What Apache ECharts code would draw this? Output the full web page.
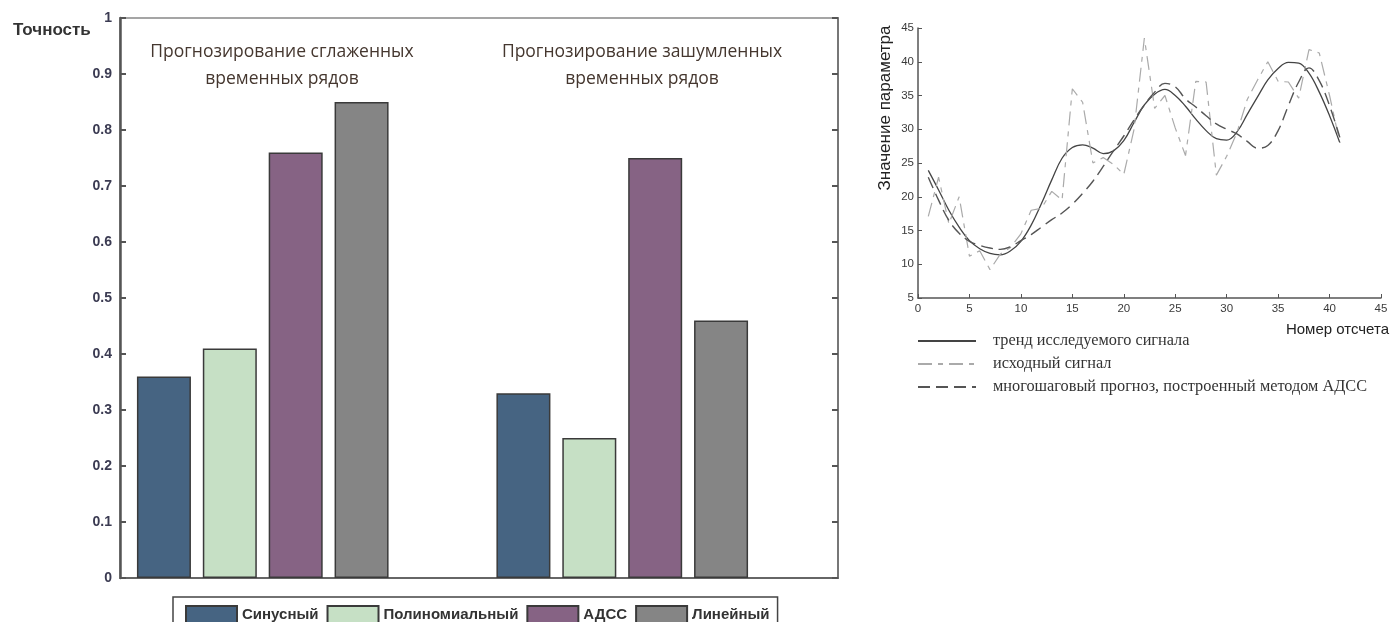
<!DOCTYPE html>
<html>
<head>
<meta charset="utf-8">
<script src="https://cdn.jsdelivr.net/npm/echarts@6/dist/echarts.min.js"></script>
<style>
  html, body { margin: 0; padding: 0; background: #fff; }
  #chart { width: 1394px; height: 622px; }
</style>
</head>
<body>
<div id="chart"></div>
<script>
// левый график: точность прогноза
var groups = ['Прогнозирование сглаженных\nвременных рядов', 'Прогнозирование зашумленных\nвременных рядов'];
var sinusVals = [0.36, 0.33];
var polyVals = [0.41, 0.25];
var adssVals = [0.76, 0.75];
var linVals = [0.85, 0.46];
var barNames = ['Синусный', 'Полиномиальный', 'АДСС', 'Линейный'];
var barColors = ['#466482', '#c6e0c5', '#866384', '#858585'];

// правый график: номер отсчета 1..41
var samples = [1,2,3,4,5,6,7,8,9,10,11,12,13,14,15,16,17,18,19,20,21,22,23,24,25,26,27,28,29,30,31,32,33,34,35,36,37,38,39,40,41];
var trend = [23.9,21,18,15.5,13.5,12.3,11.6,11.4,12,13.4,15.8,19,22.5,25.7,27.3,27.7,27.2,26.4,26.8,28.3,
  31,33.6,35.2,35.9,35,33.4,31.5,29.8,28.6,28.4,29.6,32.2,34.8,37.3,39,39.9,39.8,38.3,35.5,32,28];
var noisy = [17.1,22.9,16,20,11.2,12,9.2,11.5,12.5,14.5,18,18.3,20.8,19.5,36,34,25,25.8,24.8,23.3,
  30,43.5,33.1,35,30.2,26.1,37.1,37,23.2,26,29.5,34.4,37.3,40,37.1,37,34.6,41.8,41.3,35,28];
var forecast = [22.9,19.5,16.5,14.6,13.4,12.8,12.4,12.2,12.6,13.5,14.4,15.5,16.6,17.6,18.9,20.5,22.3,24.5,26.8,29,
  31.4,33.6,35.5,36.8,36.3,34.5,33.3,32,30.8,30,29.3,28.2,27.2,27.6,29.8,33.5,37,39.1,37.2,33.5,28.8];
var lineNames = ['тренд исследуемого сигнала', 'исходный сигнал', 'многошаговый прогноз, построенный методом АДСС'];

var chart = echarts.init(document.getElementById('chart'));

var barVals = [sinusVals, polyVals, adssVals, linVals];
var barSeries = barNames.map(function (name, i) {
  return {
    name: name,
    type: 'bar',
    xAxisIndex: 1,
    yAxisIndex: 2,
    barWidth: 54,
    barGap: '22%',
    itemStyle: { color: barColors[i], borderColor: '#3a3a3a', borderWidth: 1.5 },
    data: barVals[i]
  };
});

var xy = function (arr) {
  return samples.map(function (s, i) { return [s, arr[i]]; });
};

var labelFont = 'Liberation Sans';
var titleStyle = { fontFamily: 'Open Sans', fontSize: 17.5, fontWeight: 'normal', color: '#45372f', lineHeight: 27, align: 'center' };

chart.setOption({
  animation: false,
  title: [
    { text: 'Точность', left: 8, top: 17,
      textStyle: { fontFamily: labelFont, fontSize: 17, fontWeight: 'bold', color: '#333' } },
    { text: groups[0], left: 277, top: 34, textAlign: 'center', textStyle: titleStyle },
    { text: groups[1], left: 637, top: 34, textAlign: 'center', textStyle: titleStyle },
    { text: 'Номер отсчета', right: 0, top: 317,
      textStyle: { fontFamily: labelFont, fontSize: 15, fontWeight: 'normal', color: '#222' } }
  ],
  graphic: [
    { type: 'text', x: 885, y: 108, rotation: Math.PI / 2,
      style: { text: 'Значение параметра', font: '17px "Liberation Sans"', fill: '#222',
        textAlign: 'center', textVerticalAlign: 'middle' } }
  ],
  legend: [
    {
      data: barNames,
      left: 173, top: 597,
      padding: [8, 8, 8, 12],
      itemWidth: 51, itemHeight: 17, itemGap: 8,
      borderColor: '#444', borderWidth: 1.5,
      icon: 'rect',
      textStyle: { fontFamily: labelFont, fontSize: 15, fontWeight: 'bold', color: '#333' }
    },
    {
      data: lineNames,
      left: 912, top: 328,
      orient: 'vertical',
      itemWidth: 58, itemHeight: 14, itemGap: 7,
      itemStyle: { opacity: 0 },
      textStyle: { fontFamily: 'Liberation Serif', fontSize: 16.3, color: '#333', padding: [0, 0, 0, 12] }
    }
  ],
  grid: [
    { left: 120, top: 18, width: 718, height: 560, show: true, borderColor: '#888', borderWidth: 1.5, backgroundColor: 'transparent' },
    { left: 83, top: 18, width: 719, height: 560 },
    { left: 918, top: 28, width: 463, height: 270 }
  ],
  xAxis: [
    { gridIndex: 0, type: 'value', min: 0, max: 1, position: 'bottom',
      axisLine: { show: true, lineStyle: { color: '#666', width: 2 } },
      axisTick: { show: false }, axisLabel: { show: false }, splitLine: { show: false } },
    { gridIndex: 1, type: 'category', data: groups, show: false },
    { gridIndex: 2, type: 'value', min: 0, max: 45, interval: 5,
      axisLine: { show: true, lineStyle: { color: '#555', width: 1.5 } },
      axisTick: { show: true, inside: true, length: 4, lineStyle: { color: '#555' } },
      axisLabel: { fontFamily: labelFont, fontSize: 11.5, color: '#3a3a3a', margin: 5 },
      splitLine: { show: false } }
  ],
  yAxis: [
    { gridIndex: 0, type: 'value', min: 0, max: 1, interval: 0.1, position: 'left',
      axisLine: { show: true, lineStyle: { color: '#555', width: 2.5 } },
      axisTick: { show: true, inside: true, length: 6, lineStyle: { color: '#555', width: 2 } },
      axisLabel: { fontFamily: labelFont, fontSize: 14, fontWeight: 'bold', color: '#3b3b52', margin: 8,
        formatter: function (v) { return v === 0 ? '0' : (v === 1 ? '1' : v.toFixed(1)); } },
      splitLine: { show: false } },
    { gridIndex: 0, type: 'value', min: 0, max: 1, interval: 0.1, position: 'right',
      axisLine: { show: true, lineStyle: { color: '#777', width: 2 } },
      axisTick: { show: true, inside: true, length: 6, lineStyle: { color: '#555', width: 2 } },
      axisLabel: { show: false }, splitLine: { show: false } },
    { gridIndex: 1, type: 'value', min: 0, max: 1, show: false },
    { gridIndex: 2, type: 'value', min: 5, max: 45, interval: 5,
      axisLine: { show: true, lineStyle: { color: '#555', width: 1.5 } },
      axisTick: { show: true, inside: true, length: 4, lineStyle: { color: '#555' } },
      axisLabel: { fontFamily: labelFont, fontSize: 11.5, color: '#3a3a3a', margin: 4 },
      splitLine: { show: false } }
  ],
  series: barSeries.concat([
    {
      name: lineNames[0], type: 'line', xAxisIndex: 2, yAxisIndex: 3,
      smooth: 0.4, symbol: 'none',
      lineStyle: { color: '#444', width: 1.3, type: 'solid' },
      itemStyle: { color: '#444', opacity: 0 },
      data: xy(trend)
    },
    {
      name: lineNames[1], type: 'line', xAxisIndex: 2, yAxisIndex: 3,
      symbol: 'none',
      lineStyle: { color: '#aaa', width: 1.2, type: [14, 6, 5, 6] },
      itemStyle: { color: '#aaa', opacity: 0 },
      data: xy(noisy)
    },
    {
      name: lineNames[2], type: 'line', xAxisIndex: 2, yAxisIndex: 3,
      smooth: 0.4, symbol: 'none',
      lineStyle: { color: '#555', width: 1.4, type: [12, 6] },
      itemStyle: { color: '#555', opacity: 0 },
      data: xy(forecast)
    }
  ])
});
</script>
</body>
</html>
